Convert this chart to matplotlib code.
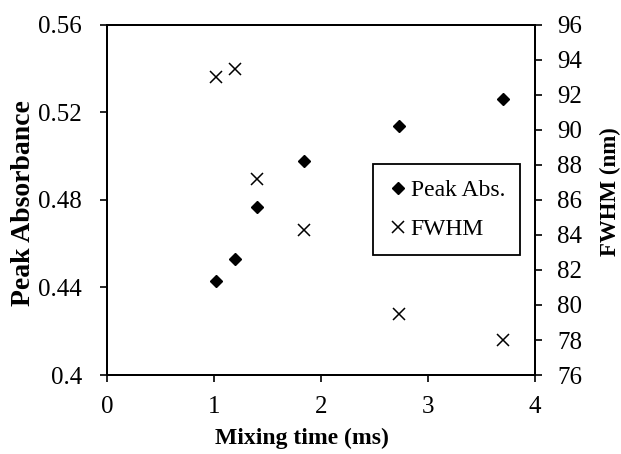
import matplotlib
matplotlib.use('Agg')
import matplotlib.pyplot as plt
from matplotlib.lines import Line2D

plt.rcParams['font.family'] = ['Liberation Serif', 'DejaVu Serif']

# data
mixing_time = [1.02, 1.20, 1.40, 1.84, 2.73, 3.70]
peak_abs = [0.443, 0.453, 0.477, 0.498, 0.514, 0.526]
fwhm = [93.0, 93.5, 87.2, 84.3, 79.5, 78.0]

fig = plt.figure(figsize=(6.21, 4.54), dpi=100)
ax1 = fig.add_axes([0.1723, 0.174, 0.6892, 0.771])
ax2 = ax1.twinx()

ax1.plot(mixing_time, peak_abs, 'D', color='black', markersize=6.5, linestyle='none')
ax2.plot(mixing_time, fwhm, 'x', color='black', markersize=8, markeredgewidth=1.1, linestyle='none')

ax1.set_xlim(0, 4)
ax1.set_ylim(0.4, 0.56)
ax1.set_xticks([0, 1, 2, 3, 4])
ax1.set_yticks([0.4, 0.44, 0.48, 0.52, 0.56])
ax1.set_yticklabels(['0.4', '0.44', '0.48', '0.52', '0.56'])
ax2.set_ylim(76, 96)
ax2.set_yticks(range(76, 97, 2))

for ax in (ax1, ax2):
    ax.tick_params(direction='out', length=5, width=1.2, labelsize=18)
    for s in ax.spines.values():
        s.set_linewidth(1.4)
ax1.tick_params(axis='y', pad=13)
ax1.tick_params(axis='x', pad=10)
ax2.tick_params(axis='y', pad=11)

ax1.set_xlabel('Mixing time (ms)', fontsize=17, fontweight='bold')
ax1.xaxis.set_label_coords(0.456, -0.152)
ax1.set_ylabel('Peak Absorbance', fontsize=20, fontweight='bold')
ax1.yaxis.set_label_coords(-0.166, 0.49)
ax2.set_ylabel('FWHM (nm)', fontsize=16.5, fontweight='bold')
ax2.yaxis.set_label_coords(1.152, 0.523)

handles = [Line2D([], [], marker='D', color='black', linestyle='none', markersize=6.5),
           Line2D([], [], marker='x', color='black', linestyle='none', markersize=8, markeredgewidth=1.1)]
leg = ax1.legend(handles, ['Peak Abs.', 'FWHM'], loc='upper left',
                 bbox_to_anchor=(0.6215, 0.603), fontsize=17, fancybox=False,
                 edgecolor='black', framealpha=1, handlelength=0.85, handletextpad=0.1,
                 labelspacing=0.75, borderpad=0.65, borderaxespad=0)
leg.get_frame().set_linewidth(1.3)

fig.savefig('out.png', dpi=100)
